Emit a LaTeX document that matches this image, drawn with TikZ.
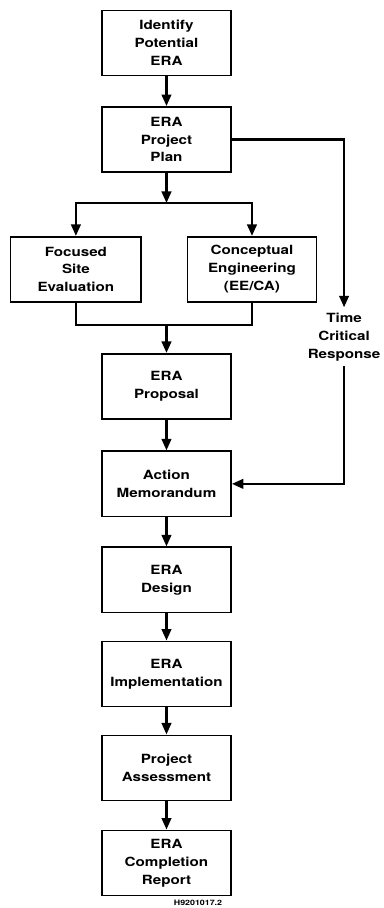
\documentclass[tikz,border=0pt]{standalone}
\usepackage{fontspec}
\setmainfont[FakeStretch=1.2]{TeX Gyre Heros}
\usepackage{tikz}
\usetikzlibrary{arrows.meta,positioning}
\tikzstyle{erabox} = [rectangle, minimum width=4.3cm, minimum height=2.17cm, text centered, align=center, draw=black, line width=1.6pt, font=\bfseries\fontsize{12}{17}\selectfont]
\tikzstyle{arrow} = [line width=2.4pt, -{Triangle[length=11pt,width=9pt]}]
\tikzstyle{line} = [line width=2.4pt]

\begin{document}
\begin{tikzpicture}
\useasboundingbox (0,0) rectangle (12.77,-30.27);
% Planning
\node[erabox] (identify) at (5.55,-1.43) {Identify\\Potential\\ERA};
\node[erabox] (plan) at (5.55,-4.65) {ERA\\Project\\Plan};
\node[erabox, minimum width=4.35cm] (fse) at (2.53,-8.98) {Focused\\Site\\Evaluation};
\node[erabox, minimum width=4.3cm] (cea) at (8.4,-8.98) {Conceptual\\Engineering\\(EE/CA)};
\coordinate (fork) at (5.55,-6.77);
\coordinate (merge) at (5.55,-10.83);

\draw[arrow] (identify) -- (plan);
\draw[arrow] (plan) -- (fork);
\draw[arrow] (fork) -| (fse);
\draw[arrow] (fork) -| (cea);
\draw[line] (fse) |- (merge);
\draw[line] (cea) |- (merge);

% Time critical branch
\node[font=\bfseries\fontsize{12}{17}\selectfont, align=center, inner sep=5pt] (tcr) at (11.47,-11.23) {Time\\Critical\\Response};

% Action
\node[erabox] (prop) at (5.55,-12.88) {ERA\\Proposal};
\node[erabox] (memo) at (5.55,-16.13) {Action\\Memorandum};
\node[erabox] (design) at (5.55,-19.33) {ERA\\Design};
\node[erabox] (impl) at (5.55,-22.47) {ERA\\Implementation};
\node[erabox] (assess) at (5.55,-25.6) {Project\\Assessment};
\node[erabox] (report) at (5.55,-28.77) {ERA\\Completion\\Report};
\node[font=\bfseries\fontsize{7}{8}\selectfont, anchor=base, inner sep=0pt] (code) at (6.6,-30.2) {H9201017.2};

\draw[arrow] (merge) -- (prop);
\draw[arrow] (plan) -| (tcr);
\draw[arrow] (tcr) |- (memo);
\draw[arrow] (prop) -- (memo);
\draw[arrow] (memo) -- (design);
\draw[arrow] (design) -- (impl);
\draw[arrow] (impl) -- (assess);
\draw[arrow] (assess) -- (report);
\end{tikzpicture}
\end{document}
